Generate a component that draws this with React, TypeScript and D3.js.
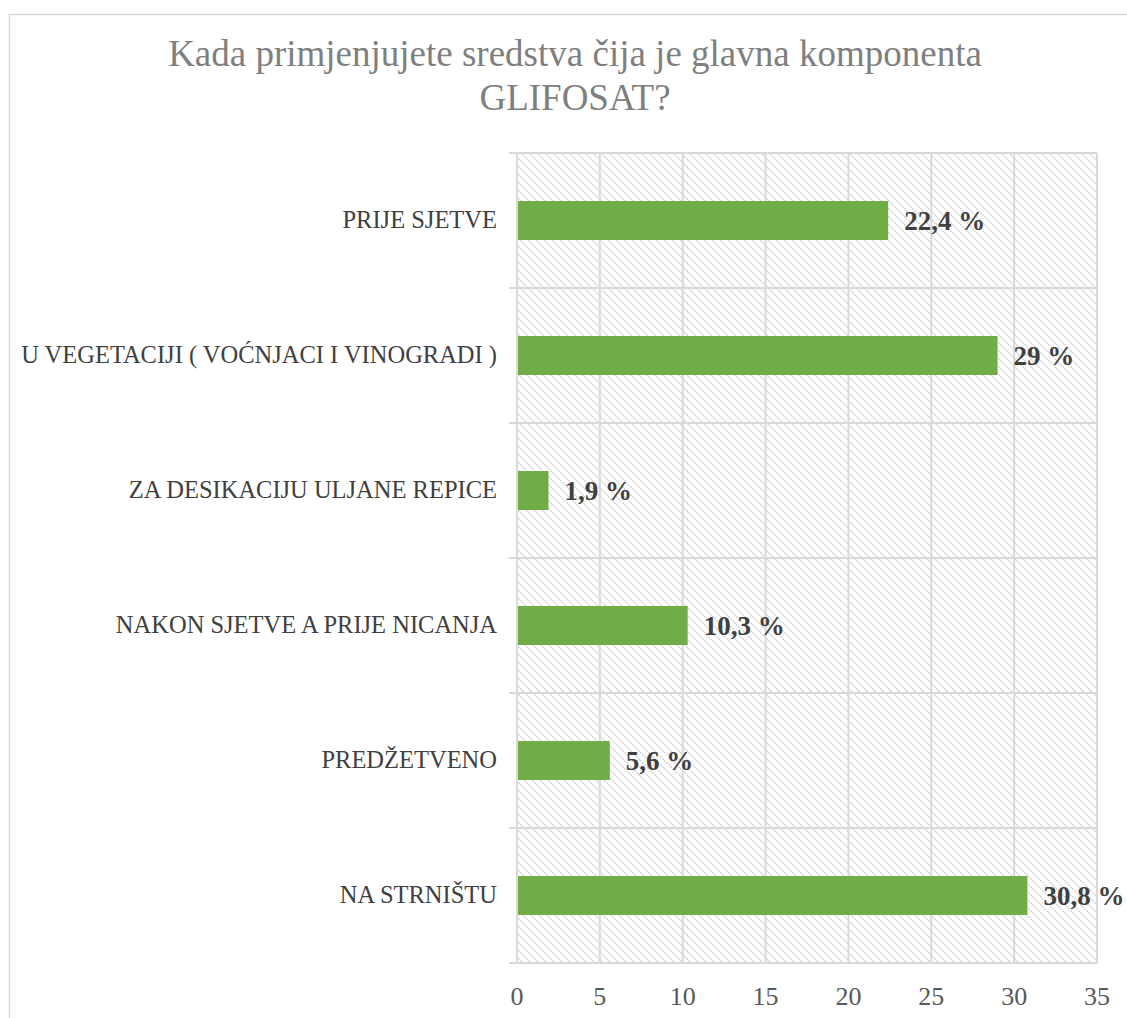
import React from "react";
import * as d3 from "d3";

const categories = [
  "PRIJE SJETVE",
  "U VEGETACIJI ( VOĆNJACI I VINOGRADI )",
  "ZA DESIKACIJU ULJANE REPICE",
  "NAKON SJETVE A PRIJE NICANJA",
  "PREDŽETVENO",
  "NA STRNIŠTU",
];
const values = [22.4, 29, 1.9, 10.3, 5.6, 30.8];
const valueLabels = ["22,4 %", "29 %", "1,9 %", "10,3 %", "5,6 %", "30,8 %"];
const ticks = [0, 5, 10, 15, 20, 25, 30, 35];
const titleLines = ["Kada primjenjujete sredstva čija je glavna komponenta", "GLIFOSAT?"];

const W = 1127;
const H = 1018;
const plot = { left: 517, right: 1097, top: 153, bottom: 963 };
const font = "Liberation Serif";

export default function App() {
  const x = d3.scaleLinear().domain([0, 35]).range([plot.left, plot.right]);
  const y = d3
    .scaleBand<string>()
    .domain(categories)
    .range([plot.top, plot.bottom])
    .paddingInner(0)
    .paddingOuter(0);
  const bw = y.bandwidth();
  const barH = 39;

  return (
    <svg
      width={W}
      height={H}
      style={{ position: "absolute", left: 0, top: 0, background: "#fff", fontFamily: font }}
    >
      <defs>
        <pattern id="hatch" patternUnits="userSpaceOnUse" width="8" height="8">
          <rect width="8" height="8" fill="#ffffff" />
          <path d="M-2,-2 L10,10 M-2,6 L2,10 M6,-2 L10,2" stroke="#d6d6d6" strokeWidth="1.6" strokeDasharray="2,1" />
        </pattern>
      </defs>
      <rect x={9.5} y={14.5} width={W + 20} height={H + 20} fill="#fff" stroke="#d9d9d9" strokeWidth={1.5} />
      {titleLines.map((t, i) => (
        <text
          key={i}
          x={575}
          y={66 + i * 44}
          textAnchor="middle"
          style={{ fontFamily: font }}
          fontSize={37}
          fill="#7f7f7f"
        >
          {t}
        </text>
      ))}
      <rect
        x={plot.left}
        y={plot.top}
        width={plot.right - plot.left}
        height={plot.bottom - plot.top}
        fill="url(#hatch)"
      />
      {ticks.map((t) => (
        <line
          key={"v" + t}
          x1={x(t)}
          x2={x(t)}
          y1={plot.top}
          y2={plot.bottom}
          stroke="#d9d9d9"
          strokeWidth={2}
        />
      ))}
      {categories.map((c) => (
        <line
          key={"h" + c}
          x1={plot.left}
          x2={plot.right}
          y1={y(c)!}
          y2={y(c)!}
          stroke="#d9d9d9"
          strokeWidth={2}
        />
      ))}
      <line x1={plot.left} x2={plot.right} y1={plot.bottom} y2={plot.bottom} stroke="#d9d9d9" strokeWidth={2} />
      <line x1={plot.left - 8} x2={plot.left} y1={plot.top} y2={plot.top} stroke="#d9d9d9" strokeWidth={2} />
      {categories.map((c) => (
        <line key={"t" + c} x1={plot.left - 8} x2={plot.left} y1={y(c)! + bw} y2={y(c)! + bw} stroke="#d9d9d9" strokeWidth={2} />
      ))}
      {categories.map((c, i) => {
        const cy = y(c)! + bw / 2;
        return (
          <g key={c}>
            <rect x={x(0) + 1} y={cy - barH / 2} width={x(values[i]) - x(0) - 1} height={barH} fill="#70ad47" />
            <text
              x={497}
              y={cy + 7.5}
              textAnchor="end"
              style={{ fontFamily: font }}
              fontSize={24.5}
              fill="#404040"
            >
              {c}
            </text>
            <text
              x={x(values[i]) + 16}
              y={cy + 9.5}
              style={{ fontFamily: font }}
              fontSize={27}
              fontWeight="bold"
              fill="#404040"
            >
              {valueLabels[i]}
            </text>
          </g>
        );
      })}
      {ticks.map((t) => (
        <text
          key={"l" + t}
          x={x(t)}
          y={1005}
          textAnchor="middle"
          style={{ fontFamily: font }}
          fontSize={26}
          fill="#595959"
        >
          {t}
        </text>
      ))}
    </svg>
  );
}
